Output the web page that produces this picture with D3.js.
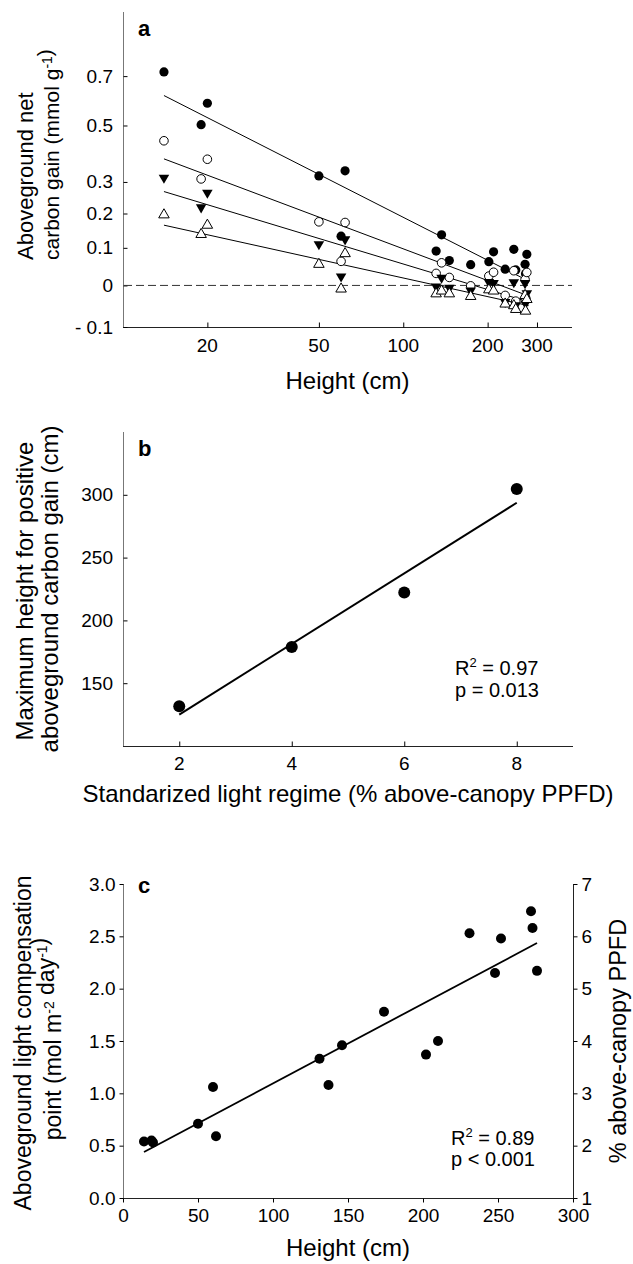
<!DOCTYPE html>
<html><head><meta charset="utf-8">
<script src="https://cdn.jsdelivr.net/npm/d3@7"></script>
<style>
body{margin:0;background:#fff}
svg{display:block}
text{font-family:"Liberation Sans",Arial,sans-serif;fill:#000}
</style>
</head><body>
<svg id="chart" width="633" height="1264"></svg>
<script>
// ---------- Panel a data ----------
const heightsA = [14,19,20,50,60,62,131,137,146,174,202,210,231,248,252,272,273,276];
const gain8 = [0.718,0.503,0.587,0.320,0.133,0.337,0.091,0.137,0.065,0.054,0.062,0.089,0.042,0.096,0.040,0.055,0.030,0.082];
const gain6 = [0.443,0.310,0.377,0.175,0.063,0.173,0.031,0.059,0.0205,-0.001,0.024,0.034,-0.025,0.038,-0.039,0.015,-0.030,0.0335];
const gain4 = [0.314,0.219,0.265,0.110,0.023,0.124,-0.0025,0.0196,-0.006,-0.013,0.0085,0.006,-0.041,0.008,-0.049,0.006,-0.045,-0.020];
const gain2 = [0.196,0.138,0.165,0.055,-0.009,0.084,-0.021,-0.014,-0.021,-0.0275,-0.011,-0.014,-0.046,-0.050,-0.059,-0.025,-0.063,-0.035];
// fits in log10(height) vs log10(gain+1) space
const fitIntercept = [0.389,0.2723,0.2104,0.1444];
const fitSlope = [-0.157,-0.116,-0.0934,-0.0681];
const fitRange = [14,280];
const xTicksA = [20,50,100,200,300];
const yTicksA = [-0.1,0,0.1,0.2,0.3,0.5,0.7];
const yTickLabelsA = ["- 0.1","0","0.1","0.2","0.3","0.5","0.7"];

// ---------- Panel b data ----------
const lightB = [2,4,6,8];
const maxHeightB = [131.7,178.9,222.2,304.6];
const xTicksB = [2,4,6,8];
const yTicksB = [150,200,250,300];

// ---------- Panel c data ----------
const heightC = [14,19,20,50,60,62,131,137,146,174,202,210,231,248,252,272,273,276];
const lcpC = [0.54,0.55,0.53,0.71,1.06,0.59,1.33,1.08,1.46,1.78,1.37,1.50,2.53,2.15,2.48,2.74,2.58,2.17];
const xTicksC = [0,50,100,150,200,250,300];
const yTicksC = [0,0.5,1.0,1.5,2.0,2.5,3.0];
const y2TicksC = [1,2,3,4,5,6,7];

const svg = d3.select("#chart");
svg.append("rect").attr("width",633).attr("height",1264).attr("fill","#fff");

const L = 123, R = 573;
const TICKF = 19, TITLEF = 24, YLF = 23;

function styleAxis(g){
  g.select(".domain").remove();
  g.selectAll(".tick line").attr("stroke","#000");
  g.selectAll(".tick text").attr("font-size",TICKF).attr("font-family","Liberation Sans, Arial, sans-serif").attr("fill","#000");
}
function hline(y,x1,x2,c){svg.append("line").attr("x1",x1).attr("x2",x2).attr("y1",y).attr("y2",y).attr("stroke",c||"#222").attr("stroke-width",1);}
function vline(x,y1,y2,c){svg.append("line").attr("x1",x).attr("x2",x).attr("y1",y1).attr("y2",y2).attr("stroke",c||"#777").attr("stroke-width",1);}

function ylabel(x, y, parts, anchor, size){
  const t = svg.append("text").attr("transform",`translate(${x},${y}) rotate(-90)`)
    .attr("text-anchor",anchor||"middle").attr("font-size",size||YLF);
  parts.forEach(p=>{
    if(p.sup){ t.append("tspan").attr("dy",-7).attr("font-size",14).text(p.t); t.append("tspan").attr("dy",7).text(""); }
    else t.append("tspan").text(p.t);
  });
  return t;
}

// ================= Panel a =================
const aTop = 12, aBot = 327;
const xA = d3.scaleLog().domain([10,400]).range([L,572]);
const yA1 = d3.scaleLog().domain([0.9,2.0]).range([aBot,aTop]); // on gain+1
const yA = v => yA1(v+1);

vline(L+0.5,aTop,aBot,"#777");
hline(aBot+0.5,L,572,"#222");

svg.append("g").attr("transform",`translate(${L+0.5},0)`)
  .call(d3.axisRight(yA1).tickValues(yTicksA.map(v=>v+1)).tickSize(4).tickFormat(()=>""))
  .call(g=>styleAxis(g));
svg.append("g").selectAll("text").data(yTicksA).join("text")
  .attr("x",113).attr("y",d=>yA(d)+6.5).attr("text-anchor","end").attr("font-size",TICKF)
  .text((d,i)=>yTickLabelsA[i]);

svg.append("g").attr("transform",`translate(0,${aBot+0.5})`)
  .call(d3.axisTop(xA).tickValues(xTicksA).tickSize(5).tickFormat(()=>""))
  .call(g=>styleAxis(g));
svg.append("g").selectAll("text").data(xTicksA).join("text")
  .attr("x",d=>xA(d)).attr("y",352).attr("text-anchor","middle").attr("font-size",TICKF).text(d=>d);

// zero dashed line
svg.append("line").attr("x1",L+1).attr("x2",572).attr("y1",yA(0)).attr("y2",yA(0))
  .attr("stroke","#333").attr("stroke-width",1).attr("stroke-dasharray","8,4");

// fit lines
fitIntercept.forEach((a,i)=>{
  const b = fitSlope[i];
  const pts = fitRange.map(h=>[xA(h), yA1(Math.pow(10, a + b*Math.log10(h)))]);
  svg.append("path").attr("d",d3.line()(pts)).attr("stroke","#000").attr("stroke-width",1).attr("fill","none");
});

const gA = svg.append("g");
gA.selectAll("circle.f").data(gain8).join("circle").attr("class","f")
  .attr("cx",(d,i)=>xA(heightsA[i])).attr("cy",d=>yA(d)).attr("r",4.6).attr("fill","#000");
gA.selectAll("circle.o").data(gain6).join("circle").attr("class","o")
  .attr("cx",(d,i)=>xA(heightsA[i])).attr("cy",d=>yA(d)).attr("r",4.3).attr("fill","#fff").attr("stroke","#000").attr("stroke-width",1);
const tri = d3.symbol(d3.symbolTriangle, 48);
gA.selectAll("path.d").data(gain4).join("path").attr("class","d")
  .attr("d",tri).attr("transform",(d,i)=>`translate(${xA(heightsA[i])},${yA(d)}) rotate(180)`).attr("fill","#000");
gA.selectAll("path.u").data(gain2).join("path").attr("class","u")
  .attr("d",tri).attr("transform",(d,i)=>`translate(${xA(heightsA[i])},${yA(d)})`).attr("fill","#fff").attr("stroke","#000").attr("stroke-width",1);

svg.append("text").attr("x",138).attr("y",36).attr("font-size",22).attr("font-weight","bold").text("a");
ylabel(33,260,[{t:"Aboveground net"}],"start",22);
ylabel(59,260,[{t:"carbon gain (mmol g"},{t:"-1",sup:true},{t:")"}],"start",21);
svg.append("text").attr("x",(L+572)/2).attr("y",389).attr("text-anchor","middle").attr("font-size",TITLEF).text("Height (cm)");

// ================= Panel b =================
const bTop = 432, bBot = 746;
const xB = d3.scaleLinear().domain([1,9]).range([L,R]);
const yB = d3.scaleLinear().domain([100,350]).range([bBot,bTop]);
vline(L+0.5,bTop,bBot,"#777");
hline(bBot+0.5,L,R,"#222");
svg.append("g").attr("transform",`translate(${L+0.5},0)`)
  .call(d3.axisRight(yB).tickValues(yTicksB).tickSize(4).tickFormat(()=>"")).call(g=>styleAxis(g));
svg.append("g").selectAll("text").data(yTicksB).join("text")
  .attr("x",113).attr("y",d=>yB(d)+6.5).attr("text-anchor","end").attr("font-size",TICKF).text(d=>d);
svg.append("g").attr("transform",`translate(0,${bBot+0.5})`)
  .call(d3.axisTop(xB).tickValues(xTicksB).tickSize(5).tickFormat(()=>"")).call(g=>styleAxis(g));
svg.append("g").selectAll("text").data(xTicksB).join("text")
  .attr("x",d=>xB(d)).attr("y",770).attr("text-anchor","middle").attr("font-size",TICKF).text(d=>d);

function lsq(xs,ys){
  const mx=d3.mean(xs), my=d3.mean(ys);
  let sxy=0,sxx=0; xs.forEach((x,i)=>{sxy+=(x-mx)*(ys[i]-my); sxx+=(x-mx)*(x-mx);});
  const b=sxy/sxx; return {a:my-b*mx,b};
}
const fb = lsq(lightB,maxHeightB);
const xbExt = d3.extent(lightB);
svg.append("path").attr("d",d3.line()(xbExt.map(x=>[xB(x),yB(fb.a+fb.b*x)])))
  .attr("stroke","#000").attr("stroke-width",2).attr("fill","none");
svg.append("g").selectAll("circle").data(maxHeightB).join("circle")
  .attr("cx",(d,i)=>xB(lightB[i])).attr("cy",d=>yB(d)).attr("r",6).attr("fill","#000");

svg.append("text").attr("x",138).attr("y",456).attr("font-size",22).attr("font-weight","bold").text("b");
ylabel(33,591,[{t:"Maximum height for positive"}],"middle",24);
ylabel(58,589,[{t:"aboveground carbon gain (cm)"}],"middle",24);
svg.append("text").attr("x",(L+R)/2).attr("y",802).attr("text-anchor","middle").attr("font-size",TITLEF).text("Standarized light regime (% above-canopy PPFD)");
const rb = svg.append("text").attr("x",455).attr("y",675).attr("font-size",20);
rb.append("tspan").text("R"); rb.append("tspan").attr("dy",-8).attr("font-size",13).text("2"); rb.append("tspan").attr("dy",8).text(" = 0.97");
svg.append("text").attr("x",455).attr("y",697).attr("font-size",20).text("p = 0.013");

// ================= Panel c =================
const cTop = 884, cBot = 1198;
const xC = d3.scaleLinear().domain([0,300]).range([L,R]);
const yC = d3.scaleLinear().domain([0,3]).range([cBot,cTop]);
const yC2 = d3.scaleLinear().domain([1,7]).range([cBot,cTop]);
vline(L+0.5,cTop,cBot,"#777");
vline(R+0.5,cTop,cBot,"#222");
hline(cBot+0.5,L,R+1,"#222");
svg.append("g").attr("transform",`translate(${L+0.5},0)`)
  .call(d3.axisLeft(yC).tickValues(yTicksC).tickSize(4).tickPadding(4).tickFormat(d3.format(".1f"))).call(g=>styleAxis(g));
svg.append("g").attr("transform",`translate(${R+0.5},0)`)
  .call(d3.axisRight(yC2).tickValues(y2TicksC).tickSize(4).tickPadding(4).tickFormat(d3.format("d"))).call(g=>styleAxis(g));
svg.append("g").attr("transform",`translate(0,${cBot+0.5})`)
  .call(d3.axisBottom(xC).tickValues(xTicksC).tickSize(4).tickPadding(6).tickFormat(d3.format("d"))).call(g=>styleAxis(g));

const fc = lsq(heightC,lcpC);
const xcExt = d3.extent(heightC);
svg.append("path").attr("d",d3.line()(xcExt.map(x=>[xC(x),yC(fc.a+fc.b*x)])))
  .attr("stroke","#000").attr("stroke-width",1.8).attr("fill","none");
svg.append("g").selectAll("circle").data(lcpC).join("circle")
  .attr("cx",(d,i)=>xC(heightC[i])).attr("cy",d=>yC(d)).attr("r",5).attr("fill","#000");

svg.append("text").attr("x",138).attr("y",893).attr("font-size",22).attr("font-weight","bold").text("c");
ylabel(31,1043,[{t:"Aboveground light compensation"}],"middle",23);
ylabel(61,1039,[{t:"point (mol m"},{t:"-2",sup:true},{t:" day"},{t:"-1",sup:true},{t:")"}],"middle",23);
ylabel(626,1041,[{t:"% above-canopy PPFD"}],"middle",23.5);
svg.append("text").attr("x",(L+R)/2).attr("y",1256).attr("text-anchor","middle").attr("font-size",TITLEF).text("Height (cm)");
const rc = svg.append("text").attr("x",451).attr("y",1145).attr("font-size",20);
rc.append("tspan").text("R"); rc.append("tspan").attr("dy",-8).attr("font-size",13).text("2"); rc.append("tspan").attr("dy",8).text(" = 0.89");
svg.append("text").attr("x",451).attr("y",1166).attr("font-size",20).text("p < 0.001");
</script>
</body></html>
